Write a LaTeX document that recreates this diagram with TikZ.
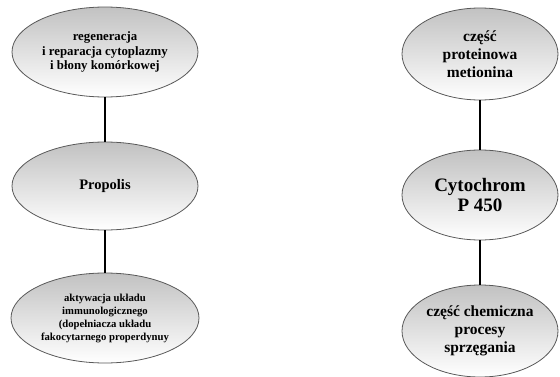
\documentclass[tikz,border=0pt]{standalone}
\usepackage{fontspec}
\setmainfont{Liberation Serif}
\usetikzlibrary{shapes.geometric}

\tikzset{
  oval/.style={ellipse, draw=black!65, thick, top color=black!24, bottom color=white,
    align=center, inner sep=0pt, font=\bfseries},
  link/.style={line width=2.6pt, black}
}

\begin{document}
\begin{tikzpicture}[x=1pt,y=1pt]
\useasboundingbox (0,0) rectangle (560,376);

\node (regen) at (105,324) [oval, minimum width=186pt, minimum height=90pt,
  font=\bfseries\fontsize{12.8}{14.5}\selectfont] {regeneracja\\i reparacja cytoplazmy\\i błony komórkowej};
\node (propolis) at (105,190) [oval, minimum width=186pt, minimum height=88pt,
  font=\bfseries\fontsize{14.5}{17}\selectfont] {Propolis};
\node (immun) at (105,58) [oval, minimum width=188pt, minimum height=90pt,
  font=\bfseries\fontsize{10.7}{13}\selectfont] {aktywacja układu\\immunologicznego\\(dopełniacza układu\\fakocytarnego properdynuy};

\node (protein) at (480,322) [oval, minimum width=156pt, minimum height=92pt,
  font=\bfseries\fontsize{15.5}{18}\selectfont] {część\\proteinowa\\metionina};
\node (cyto) at (480,181) [oval, minimum width=156pt, minimum height=90pt,
  font=\bfseries\fontsize{19}{20.5}\selectfont] {Cytochrom\\P 450};
\node (chem) at (480,45) [oval, minimum width=156pt, minimum height=92pt,
  font=\bfseries\fontsize{15.5}{18}\selectfont] {część chemiczna\\procesy\\sprzęgania};

\draw[link] (regen.south) -- (propolis.north);
\draw[link] (propolis.south) -- (immun.north);
\draw[link] (protein.south) -- (cyto.north);
\draw[link] (cyto.south) -- (chem.north);
\end{tikzpicture}
\end{document}
